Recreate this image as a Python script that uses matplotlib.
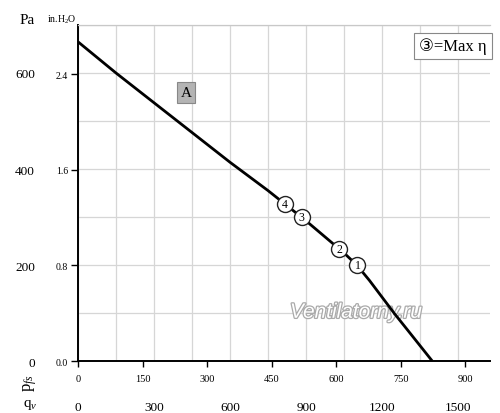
import matplotlib
matplotlib.use("Agg")
import matplotlib.pyplot as plt
import matplotlib.patheffects as pe

plt.rcParams['font.family'] = ['Liberation Serif', 'DejaVu Sans']
plt.rcParams['mathtext.fontset'] = 'custom'
plt.rcParams['mathtext.rm'] = 'Liberation Serif'
plt.rcParams['mathtext.it'] = 'Liberation Serif:italic'

# fan curve, flow in m3/h, static pressure in Pa
flow_m3h = [0, 150, 300, 450, 600, 750, 900, 1050, 1100, 1150, 1200, 1250, 1300, 1398]
pressure_pa = [665, 600, 538, 476, 414, 355, 292, 225, 200, 168, 133, 98, 65, 0]

# numbered operating points (3 = max efficiency)
point_ids = ["4", "3", "2", "1"]
point_flow = [817, 883, 1032, 1103]
point_pa = [327, 299, 233, 199]

pa_ticks = [0, 200, 400, 600]
inh2o_ticks = [0.0, 0.8, 1.6, 2.4]
m3h_ticks = [0, 300, 600, 900, 1200, 1500]
cfm_ticks = [0, 150, 300, 450, 600, 750, 900]

PA_PER_INH2O = 249.09
M3H_PER_CFM = 1.699

fig = plt.figure(figsize=(5.0, 4.14), dpi=100)
ax = fig.add_axes([0.156, 0.1256, 0.824, 0.8116])
ax.set_xlim(0, 1626)
ax.set_ylim(0, 700)

# grid every 150 m3/h and 100 Pa
ax.set_xticks(m3h_ticks)
ax.set_xticks([150, 450, 750, 1050, 1350], minor=True)
ax.set_yticks(pa_ticks)
ax.set_yticks([100, 300, 500, 700], minor=True)
ax.grid(True, which='both', color='#d6d6d6', lw=0.9)
ax.set_axisbelow(True)
ax.tick_params(axis='x', which='both', length=0, pad=29, labelsize=9.5)
ax.tick_params(axis='y', which='both', length=0, pad=31, labelsize=9.5)

ax.spines['top'].set_color('#c8c8c8')
ax.spines['top'].set_linewidth(0.9)
ax.spines['right'].set_visible(False)
for side in ['left', 'bottom']:
    ax.spines[side].set_color('black')
    ax.spines[side].set_linewidth(1.4)

# second scales: in.H2O and CFM
ax_in = ax.secondary_yaxis('left', functions=(lambda p: p / PA_PER_INH2O,
                                              lambda v: v * PA_PER_INH2O))
ax_in.set_yticks(inh2o_ticks)
ax_in.set_yticklabels([f"{v:.1f}" for v in inh2o_ticks])
ax_in.tick_params(length=5, width=1.0, pad=2, labelsize=7)
ax_in.spines['left'].set_visible(False)

ax_cfm = ax.secondary_xaxis('bottom', functions=(lambda q: q / M3H_PER_CFM,
                                                 lambda c: c * M3H_PER_CFM))
ax_cfm.set_xticks(cfm_ticks)
ax_cfm.tick_params(length=4, width=1.0, pad=5, labelsize=7.5)
ax_cfm.spines['bottom'].set_visible(False)

ax.plot(flow_m3h, pressure_pa, color='black', lw=2.0, solid_capstyle='butt', zorder=3)

for pid, q, p in zip(point_ids, point_flow, point_pa):
    ax.plot(q, p, 'o', ms=11.5, mfc='white', mec='#222222', mew=1.0, zorder=4)
    ax.text(q, p, pid, fontsize=8.5, ha='center', va='center', zorder=5)

ax.text(426, 560, "A", fontsize=11, ha='center', va='center', zorder=5,
        bbox=dict(boxstyle='square,pad=0.25', fc='#b4b4b4', ec='#888888', lw=0.8))

ax.text(0.993, 0.9375, "\u2462=Max \u03b7", transform=ax.transAxes, fontsize=12,
        ha='right', va='center', zorder=5,
        bbox=dict(boxstyle='square,pad=0.3', fc='white', ec='#888888', lw=0.8))

ax.text(0.675, 0.145, "Ventilatorny.ru", transform=ax.transAxes, fontsize=15,
        family='Liberation Sans', style='italic', color='white', ha='center',
        va='center', zorder=2,
        path_effects=[pe.withStroke(linewidth=1.8, foreground='#aaaaaa')])

# axis unit labels
fig.text(27 / 500, 1 - 20 / 414, "Pa", fontsize=11, ha='center', va='center')
fig.text(62 / 500, 1 - 20 / 414, "in.H$_2$O", fontsize=7, ha='center', va='center')
fig.text(30 / 500, 1 - 383 / 414, "p$_{fs}$", fontsize=12, rotation=90,
         ha='center', va='center')
fig.text(30 / 500, 1 - 405 / 414, "q$_v$", fontsize=11, ha='center', va='center')

fig.savefig("out.png", dpi=100)
